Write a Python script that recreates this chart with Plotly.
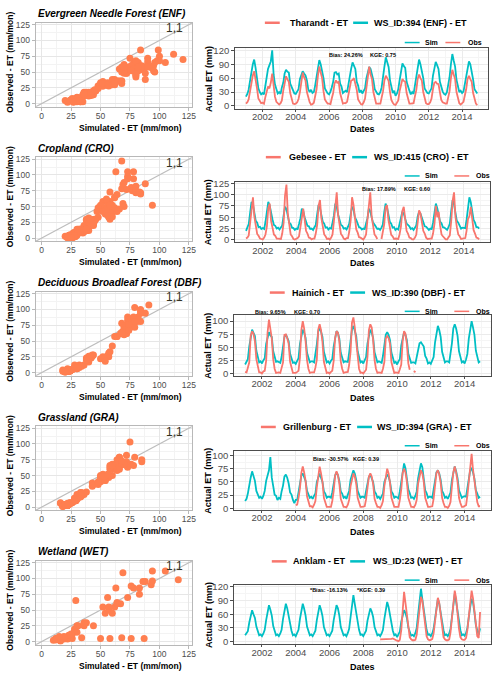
import plotly.graph_objects as go
import pandas as pd

# ---------------- data ----------------
MONTHS = pd.date_range("2001-01-01", "2014-12-01", freq="MS")

TITLES = ["Evergreen Needle Forest (ENF)", "Cropland (CRO)", "Deciduous Broadleaf Forest (DBF)",
          "Grassland (GRA)", "Wetland (WET)"]
STATIONS = ["Tharandt - ET", "Gebesee - ET", "Hainich - ET", "Grillenburg - ET", "Anklam - ET"]
WS_LABELS = ["WS_ID:394 (ENF) - ET", "WS_ID:415 (CRO) - ET", "WS_ID:390 (DBF) - ET",
             "WS_ID:394 (GRA) - ET", "WS_ID:23 (WET) - ET"]
BIAS_TXT = ["Bias: 24.26%", "Bias: 17.89%", "Bias: 9.65%", "Bias: -30.57%", "*Bias: -16.13%"]
KGE_TXT = ["KGE: 0.75", "KGE: 0.60", "KGE: 0.70", "KGE: 0.39", "*KGE: 0.39"]
TS_YTICKS = [[0, 30, 60, 90, 120], [0, 25, 50, 75, 100, 125], [0, 25, 50, 75, 100],
             [0, 25, 50, 75, 100], [0, 30, 60, 90, 120]]
SC_TICKS = [0, 25, 50, 75, 100, 125]

ENF_SIM = [
    20, 26, 35, 58, 72, 90, 100, 82, 62, 38, 30, 25,
    28, 25, 42, 62, 80, 88, 96, 120, 68, 46, 33, 27,
    30, 26, 40, 50, 70, 78, 74, 72, 48, 40, 31, 27,
    26, 33, 36, 58, 68, 75, 70, 66, 55, 36, 30, 35,
    28, 30, 44, 60, 82, 99, 90, 78, 60, 38, 32, 27,
    25, 31, 40, 52, 72, 73, 68, 70, 48, 42, 28, 31,
    33, 30, 48, 66, 80, 94, 85, 80, 52, 44, 29, 34,
    27, 32, 38, 60, 76, 84, 80, 70, 55, 36, 31, 26,
    25, 30, 40, 68, 85, 105, 95, 84, 55, 42, 28, 33,
    22, 27, 36, 56, 80, 92, 86, 82, 52, 40, 33, 25,
    30, 26, 45, 62, 88, 100, 90, 78, 60, 38, 34, 28,
    27, 32, 38, 65, 80, 95, 88, 80, 52, 40, 31, 26,
    24, 29, 42, 62, 90, 112, 98, 85, 56, 42, 30, 33,
    28, 31, 45, 68, 82, 96, 90, 76, 57, 36, 32, 27,
]
ENF_OBS = [
    5, 8, 14, 32, 48, 66, 75, 60, 38, 16, 10, 6,
    7, 5, 18, 30, 42, 38, 50, 70, 36, 20, 9, 6,
    3, 6, 12, 33, 48, 64, 58, 52, 28, 17, 5, 4,
    5, 8, 15, 30, 58, 72, 62, 55, 30, 18, 8, 3,
    4, 7, 20, 36, 65, 85, 72, 60, 32, 14, 9, 5,
    5, 4, 16, 28, 48, 55, 50, 52, 28, 17, 5, 6,
    6, 9, 24, 36, 55, 56, 60, 48, 35, 14, 8, 4,
    3, 8, 16, 38, 60, 85, 68, 58, 30, 17, 5, 5,
    5, 5, 18, 32, 55, 65, 60, 54, 30, 13, 7, 3,
    2, 6, 12, 33, 45, 58, 54, 52, 28, 16, 5, 5,
    5, 6, 20, 34, 58, 68, 60, 55, 30, 18, 6, 4,
    4, 8, 16, 36, 50, 52, 48, 47, 32, 13, 8, 6,
    5, 5, 18, 32, 60, 78, 68, 58, 30, 18, 6, 3,
    6, 9, 22, 36, 58, 65, 58, 52, 28, 15, 5, 2,
]

CRO_SIM = [
    20, 27, 35, 60, 84, 78, 60, 42, 38, 28, 29, 24,
    26, 24, 40, 58, 84, 76, 58, 45, 33, 31, 25, 27,
    23, 28, 32, 54, 73, 68, 52, 38, 35, 27, 26, 22,
    25, 24, 35, 48, 69, 64, 50, 42, 31, 30, 24, 25,
    22, 28, 33, 57, 77, 70, 55, 40, 36, 27, 28, 23,
    26, 25, 38, 54, 80, 73, 56, 45, 33, 31, 25, 26,
    23, 29, 36, 57, 73, 68, 50, 44, 36, 28, 27, 23,
    25, 24, 36, 48, 69, 63, 50, 38, 34, 30, 24, 25,
    22, 27, 34, 60, 80, 72, 55, 40, 36, 27, 28, 22,
    25, 23, 35, 46, 62, 58, 48, 36, 33, 30, 24, 26,
    22, 27, 32, 52, 62, 58, 47, 40, 30, 29, 26, 22,
    25, 24, 38, 56, 80, 70, 55, 40, 37, 28, 27, 25,
    22, 28, 36, 64, 88, 78, 58, 42, 38, 31, 25, 27,
    26, 26, 44, 66, 94, 83, 62, 44, 38, 28, 28, 25,
]
CRO_OBS = [
    3, 5, 10, 40, 72, 94, 52, 30, 13, 9, 3, 2,
    1, 5, 12, 30, 70, 80, 42, 27, 12, 9, 3, 3,
    3, 2, 14, 38, 98, 122, 58, 30, 12, 8, 2, 1,
    2, 4, 8, 33, 55, 69, 45, 20, 14, 5, 4, 1,
    3, 3, 14, 33, 75, 88, 48, 27, 12, 8, 2, 3,
    1, 5, 12, 42, 82, 105, 55, 30, 13, 9, 3, 1,
    4, 4, 18, 43, 94, 78, 50, 23, 16, 6, 5, 2,
    1, 5, 12, 45, 85, 105, 52, 28, 12, 8, 2, None,
    None, 2, 14, 34, 72, 77, 45, 26, 11, 8, 2, 3,
    2, 2, 12, 30, 64, 73, 48, 20, 14, 5, 4, 1,
    1, 5, 12, 42, 65, 58, 42, 20, 14, 5, 2, 3,
    3, 3, 14, 36, 75, 50, 62, 32, 12, 8, 4, 1,
    1, 5, 10, 42, 86, 105, 52, 28, 12, 8, 2, 3,
    3, 4, 20, 46, 52, 73, 48, 22, 14, 5, 4, 1,
]

DBF_SIM = [
    18, 22, 28, 52, 70, 84, 78, 72, 44, 32, 22, 24,
    20, 26, 30, 57, 68, 79, 73, 70, 43, 32, 23, 24,
    23, 21, 32, 50, 70, 75, 70, 62, 38, 30, 21, 22,
    19, 25, 30, 57, 73, 84, 78, 68, 40, 32, 22, 24,
    24, 22, 36, 56, 80, 88, 80, 70, 42, 32, 22, 24,
    20, 25, 28, 52, 70, 81, 78, 67, 40, 31, 22, 24,
    24, 23, 40, 60, 84, 91, 82, 72, 43, 32, 22, 24,
    20, 26, 32, 58, 74, 84, 78, 68, 41, 31, 22, 24,
    23, 21, 34, 53, 74, 79, 74, 64, 40, 31, 21, 23,
    18, 24, 28, 54, 68, 79, 74, 64, 38, 30, 21, 22,
    22, 20, 32, 44, 58, 60, 56, 52, 34, 29, 20, 22,
    19, 25, 32, 60, 78, 91, 83, 70, 42, 32, 22, 24,
    24, 22, 36, 58, 86, 94, 86, 72, 43, 32, 22, 24,
    20, 28, 38, 67, 86, 100, 88, 74, 44, 32, 22, 24,
]
DBF_OBS = [
    4, 3, 12, 22, 72, 81, 76, 62, 28, 12, 3, 3,
    1, 5, 6, 25, 78, 103, 88, 67, 28, 10, 2, 3,
    3, 2, 10, 22, 74, 75, 68, 57, 23, 10, 2, 2,
    2, 4, 6, 31, 83, 100, 86, 62, 26, 10, 2, 3,
    3, 3, 12, 27, 84, 94, 83, 60, 23, 10, 2, 3,
    1, 4, 6, 25, 68, 81, 78, 62, 24, 10, 2, 3,
    3, 4, 17, 42, 97, 107, 88, 62, 26, 10, 2, 3,
    1, 5, 8, 33, 83, 94, 88, 64, 26, 10, 2, 3,
    3, 2, 10, 23, 67, 72, 68, 57, 22, 9, 2, 3,
    2, 2, 9, 18, 62, 81, 76, 57, 20, 8, None, None,
    6, 3, None, None, None, None, None, None, None, None, None, None,
    None, None, None, None, None, None, None, None, None, None, None, None,
    None, None, None, None, None, None, None, None, None, None, None, None,
    None, None, None, None, None, None, None, None, None, None, None, None,
]

GRA_SIM = [
    14, 18, 28, 47, 58, 70, 60, 52, 33, 27, 20, 22,
    18, 24, 33, 52, 63, 72, 97, 58, 42, 26, 24, 16,
    20, 18, 32, 43, 60, 64, 58, 47, 30, 26, 16, 10,
    16, 16, 30, 43, 62, 66, 60, 52, 33, 28, 20, 22,
    18, 24, 28, 50, 60, 66, 58, 50, 32, 28, 20, 22,
    22, 20, 30, 43, 62, 68, 63, 52, 32, 28, 20, 22,
    18, 26, 33, 54, 64, 72, 66, 54, 33, 28, 20, 22,
    22, 20, 32, 44, 60, 63, 58, 50, 32, 28, 20, 22,
    18, 24, 28, 50, 58, 64, 60, 50, 32, 28, 20, 22,
    21, 19, 32, 48, 72, 85, 76, 60, 36, 29, 20, 21,
    18, 24, 32, 57, 73, 85, 78, 57, 34, 29, 20, 22,
    22, 20, 34, 48, 68, 72, 66, 54, 33, 28, 20, 22,
    18, 24, 30, 54, 68, 79, 70, 57, 34, 28, 20, 22,
    23, 22, 38, 53, 72, 75, 68, 56, 34, 28, 20, 22,
]
GRA_OBS = [
    None, None, None, None, None, None, None, None, None, None, None, None,
    None, None, None, None, None, None, None, None, None, None, None, None,
    None, None, None, None, None, None, None, None, None, None, None, None,
    6, 7, 20, 38, 67, 79, 68, 52, 23, 12, 4, 4,
    2, 7, 14, 40, 63, 79, 66, 50, 20, 10, 3, 3,
    3, 3, 14, 33, 62, 70, 63, 47, 18, 10, 3, 3,
    2, 7, 16, 42, 58, 66, 60, 47, 20, 10, 3, 3,
    3, 4, 17, 36, 60, 66, 60, 46, 18, 10, 3, 3,
    1, 6, 14, 42, 63, 75, 66, 48, 20, 10, 3, 3,
    3, 3, 16, 36, 67, 75, 68, 50, 20, 10, 3, 3,
    2, 7, 16, 47, 63, 72, 66, 50, 20, 10, 3, 3,
    3, 4, 18, 40, 67, 72, 64, 48, 20, 10, 3, 3,
    1, 5, 12, 42, 68, 79, 68, 50, 20, 10, 3, 3,
    4, 6, 24, 48, 82, 103, 73, 52, 23, 12, 4, 4,
]

WET_SIM = [
    14, 18, 23, 42, 53, 69, 60, 52, 33, 24, 14, 16,
    12, 18, 26, 47, 60, 80, 70, 57, 34, 24, 14, 16,
    12, 18, 26, 50, 66, 83, 73, 57, 33, 24, 14, 16,
    12, 18, 26, 50, 66, 83, 72, 57, 33, 24, 14, 16,
    12, 18, 24, 47, 63, 80, 70, 56, 32, 24, 14, 16,
    12, 18, 24, 47, 62, 80, 73, 57, 32, 24, 14, 16,
    12, 19, 28, 54, 73, 102, 83, 62, 36, 26, 15, 16,
    12, 18, 24, 46, 58, 73, 66, 54, 32, 24, 14, 16,
    12, 18, 26, 50, 68, 87, 76, 58, 34, 24, 14, 16,
    10, 16, 22, 44, 56, 69, 63, 52, 31, 23, 13, 15,
    12, 19, 30, 60, 83, 116, 93, 67, 38, 26, 15, 16,
    12, 18, 28, 54, 73, 94, 83, 62, 36, 25, 14, 16,
    12, 18, 28, 57, 78, 105, 88, 64, 36, 25, 14, 16,
    13, 19, 30, 57, 76, 94, 86, 64, 36, 25, 15, 29,
]
WET_OBS = [
    None, None, None, None, None, None, None, None, None, None, None, None,
    None, None, None, None, None, None, None, None, None, None, None, None,
    None, None, None, None, None, None, None, None, None, None, None, None,
    None, None, None, None, None, None, None, None, None, None, None, None,
    None, None, None, None, None, None, None, None, None, None, None, None,
    None, None, None, None, None, None, None, None, None, None, None, None,
    None, None, None, None, None, None, None, None, None, None, None, None,
    None, None, None, None, None, None, None, None, None, None, None, None,
    5, 5, 5, 5, 6, 5, 5, 5, 6, 7, 5, 4,
    2, 1, 4, 25, 70, 109, 85, 55, 25, 10, 5, 3,
    3, 4, 15, 45, 75, 98, 90, 60, 30, 12, 5, 3,
    4, 6, 18, 45, 70, 96, 85, 55, 25, 10, 5, 3,
    3, 5, 20, 50, 85, 112, 95, 60, 28, 10, 5, 4,
    4, 8, 25, 55, 88, 112, 95, 62, 30, 12, 8, 65,
]

SIMS = [ENF_SIM, CRO_SIM, DBF_SIM, GRA_SIM, WET_SIM]
OBSS = [ENF_OBS, CRO_OBS, DBF_OBS, GRA_OBS, WET_OBS]

# ---------------- styling / layout ----------------
W, H = 500, 680
OBS_COLOR = "#F8766D"
SIM_COLOR = "#00BFC4"
PT_COLOR = "#FF7F50"
FONT = "Liberation Sans"
SC_RANGE = [-5, 128]
TS_YRANGES = [[-6, 124], [-5, 128], [-3, 111], [-3, 109], [-6, 124]]
TS_XRANGE = ["2000-05-08", "2015-07-26"]
ROW_STEP = 136.1

SC_X = (36, 194)
TS_X = [(237, 492), (237, 494), (236, 495), (236, 495), (236, 495)]
TS_TOP = [45, 180, 315, 452, 588]
TS_BOT = [106, 241, 376, 512, 648]
LEG_Y = [19, 155, 292, 428, 564]
SO_Y = [39, 174, 311, 447, 583]
LEG_X = [(267, 290, 356, 375), (268, 289, 355, 375), (272, 292, 353, 373),
         (263, 283, 360, 378), (274, 293, 353, 374)]
SO_X = [(408, 426, 449, 470), (408, 426, 458, 478), (408, 426, 458, 478),
        (408, 426, 458, 478), (408, 426, 458, 478)]
BIAS_POS = [(349, 386, 52), (382, 420, 187), (273, 309, 312), (334, 369, 460), (332, 374, 593)]


def fx(v):
    return v / W


def fy(v):
    return 1 - v / H


fig = go.Figure()
layout = dict(width=W, height=H, margin=dict(l=0, r=0, t=0, b=0),
              paper_bgcolor="white", plot_bgcolor="white", showlegend=False,
              font=dict(family=FONT, color="#000000"))
annotations = []
shapes = []


def ax_name(i, letter):
    return letter if i == 1 else f"{letter}{i}"


for k in range(5):
    i_sc, i_ts = 2 * k + 1, 2 * k + 2
    sim, obs = SIMS[k], OBSS[k]
    sc_top = 19 + ROW_STEP * k
    sc_bot = 104 + ROW_STEP * k

    # ----- scatter panel -----
    pairs = [(s, o) for s, o in zip(sim, obs) if o is not None]
    xs_sc, ys_sc = ax_name(i_sc, "x"), ax_name(i_sc, "y")
    fig.add_trace(go.Scatter(x=SC_RANGE, y=SC_RANGE, mode="lines",
                             line=dict(color="#BDBDBD", width=1.2),
                             xaxis=xs_sc, yaxis=ys_sc, hoverinfo="skip"))
    fig.add_trace(go.Scatter(x=[p[0] for p in pairs], y=[p[1] for p in pairs], mode="markers",
                             marker=dict(color=PT_COLOR, size=7, line=dict(width=0)),
                             xaxis=xs_sc, yaxis=ys_sc))
    sc_common = dict(range=SC_RANGE, tickvals=SC_TICKS, showgrid=True, gridcolor="#E6E6E6",
                     gridwidth=0.8, zeroline=False, showline=True, mirror=True,
                     linecolor="#B8B8B8", linewidth=1, ticks="outside", ticklen=3,
                     tickcolor="#B8B8B8", tickfont=dict(size=8.5, color="#4D4D4D", family=FONT),
                     minor=dict(dtick=12.5, tick0=0, showgrid=True, gridcolor="#F3F3F3", gridwidth=0.6))
    layout[f"xaxis{i_sc if i_sc > 1 else ''}"] = dict(domain=[fx(SC_X[0]), fx(SC_X[1])],
                                                      anchor=ys_sc, ticklabelstandoff=-2,
                                                      **sc_common)
    layout[f"yaxis{i_sc if i_sc > 1 else ''}"] = dict(domain=[fy(sc_bot), fy(sc_top)],
                                                      anchor=xs_sc, **sc_common)
    annotations.append(dict(x=113, y=119, xref=xs_sc, yref=ys_sc, text="1,1", showarrow=False,
                            font=dict(size=12, color="#333322", family=FONT)))
    annotations.append(dict(x=fx(SC_X[0]), y=fy(10 + ROW_STEP * k), xref="paper", yref="paper",
                            text=TITLES[k], showarrow=False, xanchor="left", yanchor="middle",
                            font=dict(size=10, family=FONT, weight="bold", style="italic")))
    annotations.append(dict(x=fx(10), y=fy((sc_top + sc_bot) / 2 - 3), xref="paper", yref="paper",
                            text="Observed - ET (mm/mon)", textangle=-90, showarrow=False,
                            xanchor="center", yanchor="middle",
                            font=dict(size=8.5, family=FONT, weight="bold")))
    annotations.append(dict(x=fx(132), y=fy(125 + ROW_STEP * k), xref="paper", yref="paper",
                            text="Simulated - ET (mm/mon)", showarrow=False,
                            xanchor="center", yanchor="middle",
                            font=dict(size=8.5, family=FONT, weight="bold")))

    # ----- time series panel -----
    xs_ts, ys_ts = f"x{i_ts}", f"y{i_ts}"
    fig.add_trace(go.Scatter(x=MONTHS, y=sim, mode="lines", line=dict(color=SIM_COLOR, width=1.8),
                             xaxis=xs_ts, yaxis=ys_ts))
    fig.add_trace(go.Scatter(x=MONTHS, y=obs, mode="lines", line=dict(color=OBS_COLOR, width=1.8),
                             connectgaps=False, xaxis=xs_ts, yaxis=ys_ts))
    yt = TS_YTICKS[k]
    layout[f"xaxis{i_ts}"] = dict(domain=[fx(TS_X[k][0]), fx(TS_X[k][1])], anchor=ys_ts,
                                  type="date", range=TS_XRANGE, tick0="2002-01-01", dtick="M24",
                                  tickformat="%Y", showgrid=True, gridcolor="#EBEBEB", gridwidth=0.8,
                                  zeroline=False, showline=True, mirror=True, linecolor="#4D4D4D",
                                  linewidth=1, ticks="outside", ticklen=2, tickcolor="#4D4D4D",
                                  ticklabelstandoff=-3,
                                  tickfont=dict(size=9.5, color="#4D4D4D", family=FONT),
                                  minor=dict(dtick="M12", tick0="2001-01-01", showgrid=True,
                                             gridcolor="#F5F5F5", gridwidth=0.6))
    layout[f"yaxis{i_ts}"] = dict(domain=[fy(TS_BOT[k]), fy(TS_TOP[k])], anchor=xs_ts,
                                  range=TS_YRANGES[k], tickvals=yt, showgrid=True,
                                  gridcolor="#EBEBEB", gridwidth=0.8, zeroline=False,
                                  showline=True, mirror=True, linecolor="#4D4D4D", linewidth=1,
                                  ticks="outside", ticklen=3, tickcolor="#4D4D4D",
                                  tickfont=dict(size=9.5, color="#4D4D4D", family=FONT),
                                  minor=dict(dtick=(yt[1] - yt[0]) / 2, tick0=0, showgrid=True,
                                             gridcolor="#F5F5F5", gridwidth=0.6))
    annotations.append(dict(x=fx(210), y=fy((TS_TOP[k] + TS_BOT[k]) / 2), xref="paper", yref="paper",
                            text="Actual ET (mm)", textangle=-90, showarrow=False,
                            xanchor="center", yanchor="middle",
                            font=dict(size=9, family=FONT, weight="bold")))
    annotations.append(dict(x=fx(365), y=fy(126 + ROW_STEP * k), xref="paper", yref="paper",
                            text="Dates", showarrow=False, xanchor="center", yanchor="middle",
                            font=dict(size=9, family=FONT, weight="bold")))
    # top legend
    rx0, rtx, tx0, ttx = LEG_X[k]
    for x0, col in ((rx0, OBS_COLOR), (tx0, SIM_COLOR)):
        shapes.append(dict(type="line", xref="paper", yref="paper", x0=fx(x0), x1=fx(x0 + 15),
                           y0=fy(LEG_Y[k]), y1=fy(LEG_Y[k]), line=dict(color=col, width=2.5)))
    for xt, txt in ((rtx, STATIONS[k]), (ttx, WS_LABELS[k])):
        annotations.append(dict(x=fx(xt), y=fy(LEG_Y[k]), xref="paper", yref="paper", text=txt,
                                showarrow=False, xanchor="left", yanchor="middle",
                                font=dict(size=9, family=FONT, weight="bold")))
    # Sim / Obs legend
    sx0, stx, ox0, otx = SO_X[k]
    for x0, col in ((sx0, SIM_COLOR), (ox0, OBS_COLOR)):
        shapes.append(dict(type="line", xref="paper", yref="paper", x0=fx(x0), x1=fx(x0 + 15),
                           y0=fy(SO_Y[k]), y1=fy(SO_Y[k]), line=dict(color=col, width=1.5)))
    for xt, txt in ((stx, "Sim"), (otx, "Obs")):
        annotations.append(dict(x=fx(xt), y=fy(SO_Y[k]), xref="paper", yref="paper", text=txt,
                                showarrow=False, xanchor="left", yanchor="middle",
                                font=dict(size=7, family=FONT, weight="bold")))
    # bias / KGE
    bx, kx, by = BIAS_POS[k]
    for xc, txt in ((bx, BIAS_TXT[k]), (kx, KGE_TXT[k])):
        annotations.append(dict(x=fx(xc), y=fy(by), xref="paper", yref="paper", text=txt,
                                showarrow=False, xanchor="center", yanchor="middle",
                                font=dict(size=5.5, family=FONT, weight="bold")))

layout["annotations"] = annotations
layout["shapes"] = shapes
fig.update_layout(**layout)
fig.write_html("out.html")
